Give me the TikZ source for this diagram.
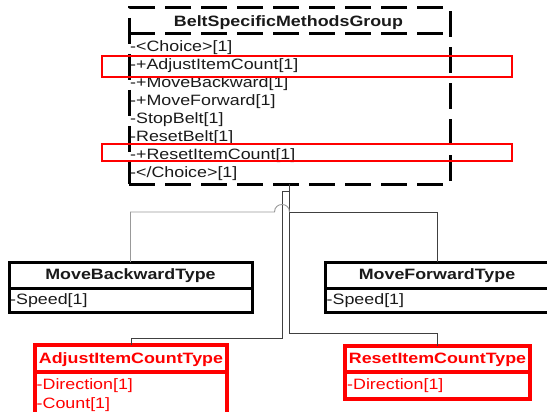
\documentclass[tikz,border=0pt]{standalone}
\usepackage{fontspec}
\setmainfont{Liberation Sans}[FakeStretch=1.19]
\definecolor{ink}{HTML}{1A1A1A}
\definecolor{hred}{HTML}{FF0000}
\begin{document}
\begin{tikzpicture}[x=1pt,y=-1pt,
  conn/.style={draw=black!75,line width=0.9pt},
  connlight/.style={draw=black!40,line width=0.9pt},
  boxblk/.style={draw=black,line width=3pt,inner sep=0pt,outer sep=0pt},
  boxred/.style={draw=hred,line width=3.3pt,inner sep=0pt,outer sep=0pt},
  hilite/.style={draw=hred,line width=1.8pt,inner sep=0pt,outer sep=0pt},
  dsh/.style={draw=black,line width=3pt,dash pattern=on 26pt off 10pt},
  txt/.style={anchor=base west,inner sep=0pt,text=ink,font=\fontsize{15}{18}\selectfont},
  ttl/.style={anchor=base,inner sep=0pt,text=ink,font=\fontsize{15}{18}\selectfont\bfseries},
  rtxt/.style={txt,text=hred},
  rttl/.style={ttl,text=hred}
]
\useasboundingbox (0,0) rectangle (547,412);

% group box
\node[dsh,inner sep=0pt,outer sep=0pt,minimum width=321pt,minimum height=176pt] (grp) at (289.5,96) {};
\draw[dsh] (grp.west |- 0,34) -- (grp.east |- 0,34);
\node[ttl] (gt) at (288.5,27) {BeltSpecificMethodsGroup};
\node[txt] (r1) at (130,52) {-<Choice>[1]};
\node[txt] (r2) at (130,70) {-+AdjustItemCount[1]};
\node[txt] (r3) at (130,88) {-+MoveBackward[1]};
\node[txt] (r4) at (130,106) {-+MoveForward[1]};
\node[txt] (r5) at (130,124) {-StopBelt[1]};
\node[txt] (r6) at (130,142) {-ResetBelt[1]};
\node[txt] (r7) at (130,160) {-+ResetItemCount[1]};
\node[txt] (r8) at (130,178) {-</Choice>[1]};

% highlights
\node[hilite,minimum width=410pt,minimum height=21pt] (hl1) at (307,66.5) {};
\node[hilite,minimum width=410pt,minimum height=17pt] (hl2) at (307,152.5) {};

% type boxes
\node[boxblk,minimum width=243pt,minimum height=50pt] (mb) at (130.5,287) {};
\draw[boxblk] (mb.west |- 0,288) -- (mb.east |- 0,288);
\node[ttl] (mbt) at (130.5,279) {MoveBackwardType};
\node[txt] (mbs) at (10,304) {-Speed[1]};

\node[boxblk,minimum width=224pt,minimum height=50pt] (mf) at (437,287) {};
\draw[boxblk] (mf.west |- 0,288) -- (mf.east |- 0,288);
\node[ttl] (mft) at (437,279) {MoveForwardType};
\node[txt] (mfs) at (326.5,304) {-Speed[1]};

\node[boxred,minimum width=192pt,minimum height=80pt] (ai) at (131,385) {};
\draw[boxred] (ai.west |- 0,372) -- (ai.east |- 0,372);
\node[rttl] (ait) at (131,363) {AdjustItemCountType};
\node[rtxt] (aid) at (36.5,389) {-Direction[1]};
\node[rtxt] (aic) at (36.5,408) {-Count[1]};

\node[boxred,minimum width=185pt,minimum height=53pt] (ri) at (437.5,372.5) {};
\draw[boxred] (ri.west |- 0,372) -- (ri.east |- 0,372);
\node[rttl] (rit) at (437.5,363) {ResetItemCountType};
\node[rtxt] (rid) at (347,389) {-Direction[1]};

% connectors
\coordinate (kR) at (289.5,333);
\coordinate (kL1) at (289.5,191);
\coordinate (kL2) at (282,191);
\coordinate (kL3) at (282,338);
\coordinate (hA) at (274.5,212);
\coordinate (hB) at (289.5,212);
\draw[conn] (grp.south) -- (kR) -| (ri.north);
\draw[conn] (kL1) -- (kL2) -- (kL3) -| (ai.north);
\draw[connlight] (mb.north) |- (hA) .. controls (274.5,202) and (289.5,202) .. (hB);
\draw[conn] (hB) -| (mf.north);
\end{tikzpicture}
\end{document}
